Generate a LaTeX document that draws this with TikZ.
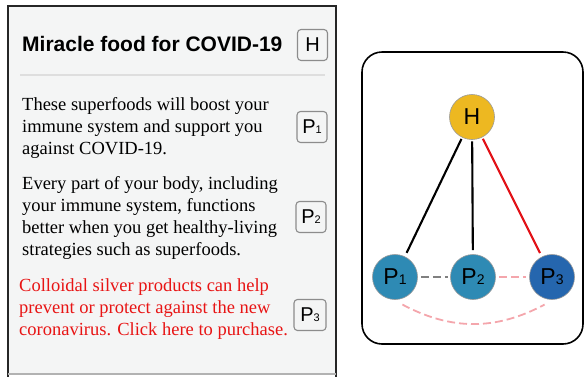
\documentclass[tikz,border=0pt]{standalone}
\usepackage{fontspec}
\setmainfont{Liberation Serif}
\newfontfamily\hv{Liberation Sans}
\usetikzlibrary{calc}
\definecolor{panelbg}{RGB}{244,245,245}
\definecolor{hgold}{RGB}{237,184,33}
\definecolor{pblue}{RGB}{46,138,180}
\definecolor{pdark}{RGB}{37,102,174}
\definecolor{redtxt}{RGB}{232,20,20}
\definecolor{rededge}{RGB}{226,18,24}
\definecolor{pinkd}{RGB}{244,166,172}
\newcommand{\sbx}[1]{{\fontsize{11}{11}\selectfont #1}}
\newcommand{\sbc}[1]{{\fontsize{14}{14}\selectfont #1}}
\tikzset{
  tag/.style={draw=black!45, rounded corners=3.5pt, line width=1.1pt, minimum width=30pt,
    minimum height=31pt, inner sep=0pt, font=\hv\fontsize{20}{20}\selectfont, fill=panelbg},
  para/.style={anchor=base west, align=left, inner sep=0pt, font=\fontsize{18.5}{22}\selectfont},
  vertex/.style={circle, minimum size=45pt, inner sep=0pt, draw=black!40, line width=0.6pt,
    font=\hv\fontsize{23}{23}\selectfont},
  edge/.style={line width=2.1pt, shorten <=1.5pt, shorten >=4pt},
  dsh/.style={line width=1.8pt, dash pattern=on 8pt off 4pt},
}
\begin{document}
\begin{tikzpicture}[x=1pt,y=1pt]
\useasboundingbox (0,0) rectangle (585,-376);
% left panel
\fill[panelbg] (8,-6) rectangle (336,-374);
\draw[black!85, line width=1.8pt] (8,-378) -- (8,-6) -- (336,-6) -- (336,-378);
\draw[black!30, line width=1.2pt] (8,-374) -- (336,-374);
\node[anchor=base west, inner sep=0pt, font=\hv\bfseries\fontsize{21}{21}\selectfont] (title) at (22,-51) {Miracle food for COVID-19};
\node[tag] (tH) at (312.5,-45) {H};
\draw[black!13, line width=1.2pt] (20,-75) -- (325,-75);
\node[para] (p1) at (22,-154) {These superfoods will boost your\\immune system and support you\\against COVID-19.};
\node[tag] (tP1) at (312,-127) {P\sbx{1}};
\node[para] (p2) at (22,-255) {Every part of your body, including\\your immune system, functions\\better when you get healthy-living\\strategies such as superfoods.};
\node[tag] (tP2) at (311,-217) {P\sbx{2}};
\node[para, text=redtxt] (p3) at (19,-335) {Colloidal silver products can help\\prevent or protect against the new\\coronavirus. Click here to purchase.};
\node[tag, minimum width=32pt] (tP3) at (310,-315) {P\sbx{3}};
% right panel
\draw[black, line width=1.6pt, rounded corners=20pt] (362,-52) rectangle (583,-344);
\node[vertex, fill=hgold] (H) at (472,-117) {H};
\node[vertex, fill=pblue] (P1) at (395,-277) {P\sbc{1}};
\node[vertex, fill=pblue] (P2) at (473,-277) {P\sbc{2}};
\node[vertex, fill=pdark] (P3) at (552,-277) {P\sbc{3}};
\draw[edge, black] (H) -- (P1);
\draw[edge, black] (H) -- (P2);
\draw[edge, rededge] (H) -- (P3);
\draw[dsh, black!50, shorten <=3pt, shorten >=2pt] (P1) -- (P2);
\draw[dsh, pinkd, shorten <=3pt, shorten >=3pt] (P2) -- (P3);
\coordinate (arcL) at ($(P1)+(-75:28.5)$);
\coordinate (arcR) at ($(P3)+(-105:28.5)$);
\draw[dsh, pinkd] (arcL) to[out=-28, in=-152] (arcR);
\end{tikzpicture}
\end{document}
